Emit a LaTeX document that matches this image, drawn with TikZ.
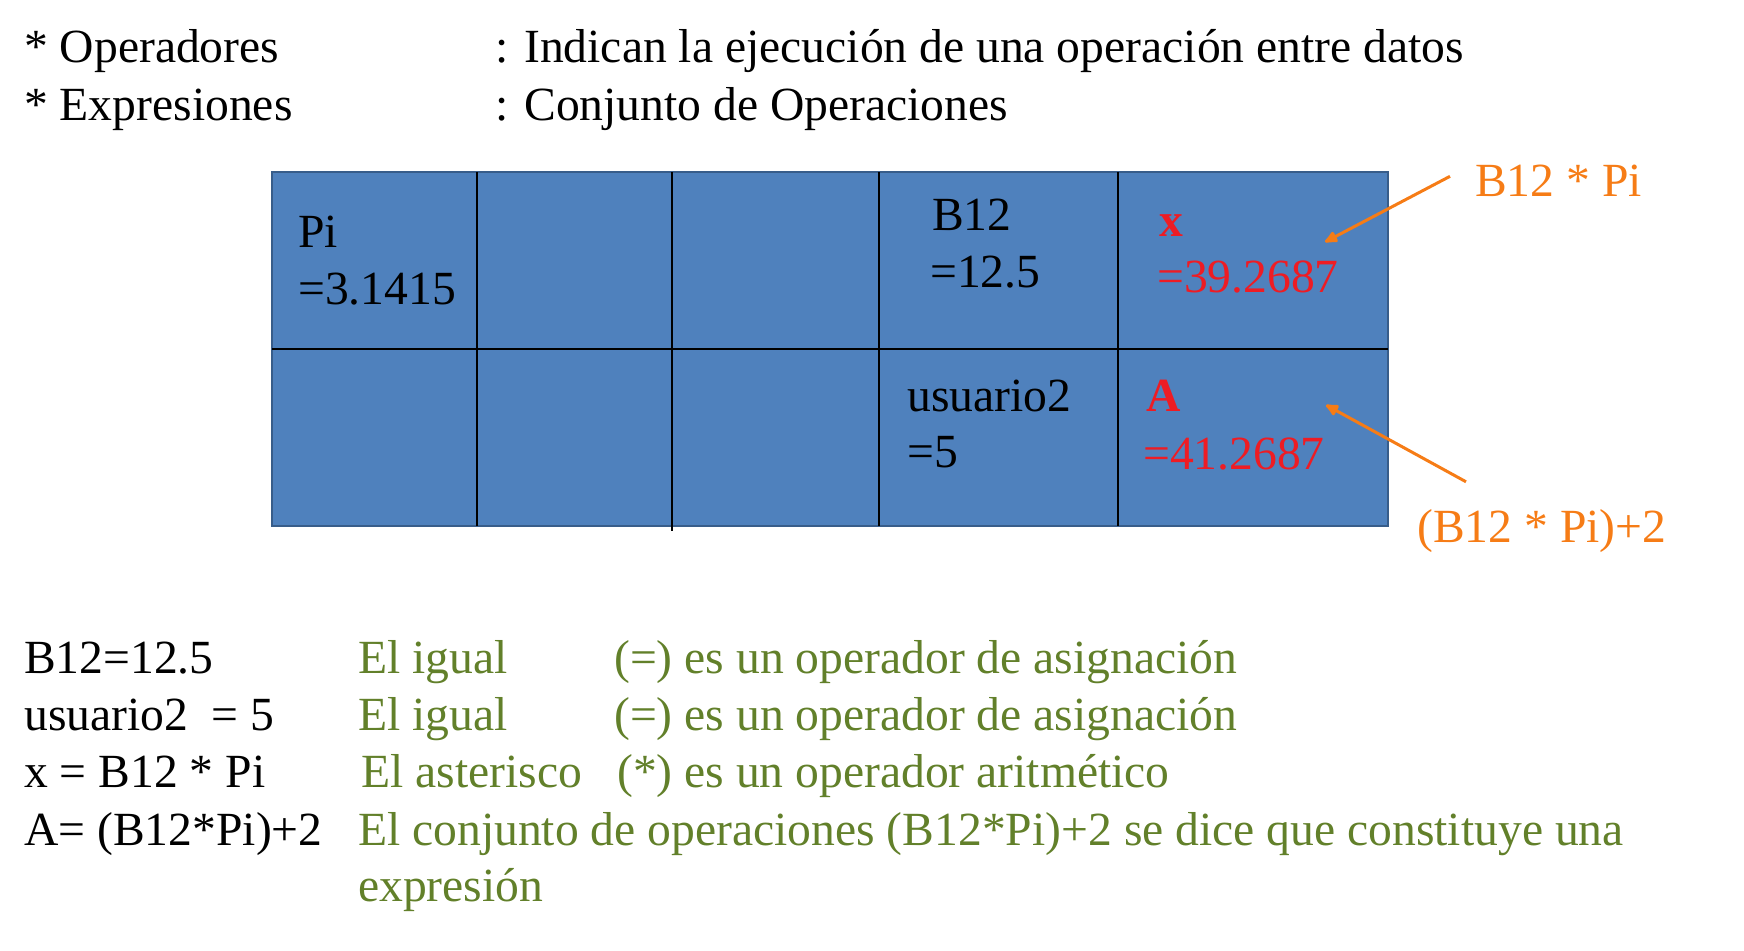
\documentclass[tikz,border=0pt]{standalone}
\usepackage{fontspec}
\setmainfont{Liberation Serif}
\usetikzlibrary{arrows.meta}
\definecolor{cellblue}{RGB}{79,129,189}
\definecolor{celledge}{RGB}{56,93,138}
\definecolor{valred}{RGB}{238,28,36}
\definecolor{noteorange}{RGB}{246,124,22}
\definecolor{notegreen}{RGB}{98,128,42}
\tikzset{
  txt/.style={anchor=base west,inner sep=0pt,font=\fontsize{47.6}{57}\selectfont},
  val/.style={txt,text=valred},
  note/.style={txt,text=noteorange},
  expl/.style={txt,text=notegreen},
  gridline/.style={line width=2.2pt},
  pointer/.style={draw=noteorange,line width=3pt,-{Latex[length=16pt,width=14pt,round]}}
}

\begin{document}
\begin{tikzpicture}[x=1pt,y=-1pt]
      \useasboundingbox (0,0) rectangle (1744,950);

      \node[txt] (OpTag) at (24,63) {* Operadores};
      \node[txt] (OpDef) at (495,63) {: Indican la ejecución de una operación entre datos};
      \node[txt] (ExTag) at (24,120) {* Expresiones};
      \node[txt] (ExDef) at (495,120) {: Conjunto de Operaciones};

      \draw[fill=cellblue,draw=celledge,line width=2pt] (272,172) rectangle (1388,526);
      \draw[gridline] (272,349) -- (1388,349);
      \draw[gridline] (477,172) -- (477,526);
      \draw[gridline] (672,172) -- (672,531);
      \draw[gridline] (879,172) -- (879,526);
      \draw[gridline] (1118,172) -- (1118,526);

      \node[txt] (PiName) at (298,247) {Pi};
      \node[txt] (PiVal) at (298,304) {=3.1415};
      \node[txt] (BName) at (932,230) {B12};
      \node[txt] (BVal) at (930,287) {=12.5};
      \node[val] (XName) at (1159,236) {\bfseries x};
      \node[val] (XVal) at (1157,292) {=39.2687};
      \node[txt] (UName) at (907,411) {usuario2};
      \node[txt] (UVal) at (907,467) {=5};
      \node[val] (AName) at (1146,411) {\bfseries A};
      \node[val] (AVal) at (1143,469) {=41.2687};

      \node[note] (XNote) at (1475,196) {B12 * Pi};
      \node[note] (ANote) at (1417,542) {(B12 * Pi)+2};
      \coordinate (XTip) at (1325,242);
      \coordinate (ATip) at (1326,405);
      \draw[pointer] ([xshift=-25pt,yshift=4pt]XNote.west) -- (XTip);
      \draw[pointer] ([xshift=49pt,yshift=27pt]ANote.north west) -- (ATip);

      \node[txt] (L1) at (24,673) {B12=12.5};
      \node[expl] (L1a) at (358,673) {El igual};
      \node[expl] (L1b) at (614,673) {(=) es un operador de asignación};
      \node[txt] (L2) at (24,730) {usuario2~~= 5};
      \node[expl] (L2a) at (358,730) {El igual};
      \node[expl] (L2b) at (614,730) {(=) es un operador de asignación};
      \node[txt] (L3) at (24,787) {x = B12 * Pi};
      \node[expl] (L3a) at (361,787) {El asterisco};
      \node[expl] (L3b) at (617,787) {(*) es un operador aritmético};
      \node[txt] (L4) at (24,845) {A= (B12*Pi)+2};
      \node[expl] (L4a) at (358,845) {El conjunto de operaciones (B12*Pi)+2 se dice que constituye una};
      \node[expl] (L4b) at (358,901) {expresión};
    \end{tikzpicture}
\end{document}
